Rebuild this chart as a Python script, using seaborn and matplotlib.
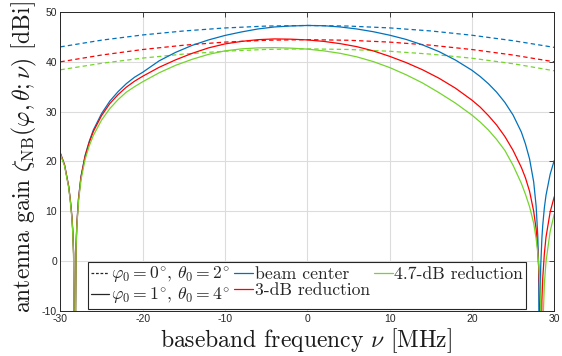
import numpy as np
import pandas as pd
import matplotlib
matplotlib.use("Agg")
import matplotlib.pyplot as plt
from matplotlib.lines import Line2D
import seaborn as sns

# ---------------- data ----------------
freq = [-30, -29.5, -29, -28.8, -28.6, -28.5, -28.4, -28.25, -28.1, -28.0, -27.8, -27.5,
        -27, -26.5, -26, -25, -24, -23, -22, -21, -20, -18, -16, -14, -12, -10, -8, -6,
        -4, -2, 0, 2, 4, 6, 8, 10, 12, 14, 16, 18, 20, 21, 22, 23, 24, 25, 26, 26.5, 27,
        27.5, 27.8, 28.0, 28.1, 28.2, 28.35, 28.5, 28.6, 28.8, 29, 29.5, 30]

solid_center = [21.6, 19.3, 15.0, 12.3, 8.8, 6.0, 1.5, -30, 3.0, 7.5, 12.6, 17.0,
                21.2, 24.0, 26.3, 29.6, 32.1, 34.0, 35.6, 36.9, 37.9, 40.2, 41.9, 43.3, 44.4, 45.3, 46.0, 46.6,
                47.0, 47.2, 47.3, 47.25, 47.0, 46.6, 46.05, 45.35, 44.5, 43.4, 42.05, 40.35, 38.3, 37.05, 35.6, 33.9, 31.85, 29.3, 25.9, 23.5, 20.5,
                15.9, 11.0, 5.0, -1.0, -30, -1.4, 4.6, 7.1, 10.7, 13.2, 17.4, 20.2]

solid_3db = [21.6, 19.3, 15.0, 12.3, 8.8, 6.0, 1.5, -30, 3.0, 7.4, 12.4, 16.8,
             21.0, 23.8, 26.0, 29.2, 31.6, 33.4, 34.9, 36.1, 37.1, 38.9, 40.4, 41.7, 42.8, 43.6, 44.1, 44.45,
             44.6, 44.55, 44.4, 44.1, 43.65, 43.05, 42.2, 41.1, 39.85, 38.4, 36.7, 34.7, 32.3, 30.9, 29.2, 27.3, 25.0, 22.2, 18.8, 16.7, 14.0,
             10.0, 6.4, 2.1, -1.0, -5.3, -30, -8.0, -3.5, 1.5, 4.8, 9.8, 12.9]

solid_47db = [21.4, 19.1, 14.8, 12.0, 8.5, 5.6, 1.0, -30, 2.6, 7.0, 12.0, 16.3,
              20.4, 23.1, 25.2, 28.3, 30.6, 32.4, 33.9, 35.0, 36.0, 37.8, 39.3, 40.5, 41.5, 42.2, 42.6, 42.8,
              42.85, 42.75, 42.55, 42.2, 41.7, 41.0, 40.05, 38.85, 37.4, 35.75, 33.8, 31.7, 29.3, 27.9, 26.3, 24.4, 22.2, 19.2, 15.6, 13.4, 10.9,
              7.6, 4.5, 1.6, -0.4, -2.9, -8.9, -30, -14.1, -4.6, -0.1, 5.9, 9.4]

freq_d = [-30, -25, -20, -15, -10, -5, 0, 5, 10, 15, 20, 25, 30]
dashed_center = [43.0, 44.35, 45.4, 46.2, 46.8, 47.18, 47.3, 47.18, 46.81, 46.2, 45.34, 44.24, 42.9]
dashed_3db = [40.0, 41.36, 42.47, 43.34, 43.96, 44.33, 44.45, 44.33, 43.96, 43.34, 42.47, 41.36, 40.0]
dashed_47db = [38.4, 39.7, 40.75, 41.56, 42.13, 42.49, 42.6, 42.48, 42.12, 41.54, 40.72, 39.62, 38.2]

xticks = [-30, -20, -10, 0, 10, 20, 30]
yticks = [-10, 0, 10, 20, 30, 40, 50]

series_names = ["beam center", "3-dB reduction", "4.7-dB reduction"]
style_names = [r"$\varphi_0 = 0^{\circ}$, $\theta_0 = 2^{\circ}$",
               r"$\varphi_0 = 1^{\circ}$, $\theta_0 = 4^{\circ}$"]
colors = ["#0072BD", "#FF0000", "#74D52B"]

# ---------------- styling ----------------
sns.set_theme(style="white")
plt.rcParams["font.family"] = ["cmr10", "DejaVu Serif"]
plt.rcParams["mathtext.fontset"] = "cm"
plt.rcParams["axes.unicode_minus"] = False
plt.rcParams["axes.formatter.use_mathtext"] = True

fig = plt.figure(figsize=(5.62, 3.56), dpi=100)
ax = fig.add_axes([0.1075, 0.1272, 0.8787, 0.839])

solid_sets = [solid_center, solid_3db, solid_47db]
dashed_sets = [dashed_center, dashed_3db, dashed_47db]
for vals, col in zip(dashed_sets, colors):
    sns.lineplot(x=freq_d, y=vals, ax=ax, color=col, lw=0.9, linestyle=(0, (3.5, 2.5)),
                 estimator=None, sort=False, legend=False)
for vals, col in zip(solid_sets, colors):
    sns.lineplot(x=freq, y=vals, ax=ax, color=col, lw=0.9,
                 estimator=None, sort=False, legend=False)

ax.set_xlim(-30, 30)
ax.set_ylim(-10, 50)
ax.set_xticks(xticks)
ax.set_yticks(yticks)
ax.set_xticklabels([str(t) for t in xticks], fontfamily="Liberation Sans", fontsize=7.5, color="#262626")
ax.set_yticklabels([str(t) for t in yticks], fontfamily="Liberation Sans", fontsize=7.5, color="#262626")
ax.tick_params(direction="in", top=True, right=True, length=3.5, width=0.6,
               color="#262626", pad=2.5)
ax.grid(True, color="#dcdcdc", lw=0.8)
ax.set_axisbelow(True)
for sp in ax.spines.values():
    sp.set_color("#262626")
    sp.set_linewidth(0.7)

ax.set_xlabel(r"baseband frequency $\nu$ [MHz]", fontsize=17, color="#1a1a1a")
ax.set_ylabel(r"antenna gain $\zeta_{\mathrm{NB}}(\varphi, \theta; \nu)$ [dBi]", fontsize=17, color="#1a1a1a")
ax.xaxis.set_label_coords(0.497, -0.052)
ax.yaxis.set_label_coords(-0.043, 0.515)

handles = [Line2D([], [], color="#262626", lw=0.9, linestyle=(0, (2.2, 1.4))),
           Line2D([], [], color="#262626", lw=0.9),
           Line2D([], [], color=colors[0], lw=0.9),
           Line2D([], [], color=colors[1], lw=0.9),
           Line2D([], [], color=colors[2], lw=0.9)]
labels = style_names + series_names
leg = ax.legend(handles, labels, ncol=3, loc="lower left", bbox_to_anchor=(0.056, 0.006),
                borderaxespad=0, fontsize=12.7, handlelength=1.05, handletextpad=0.1,
                columnspacing=0.25, labelspacing=0.05, borderpad=0.15, fancybox=False,
                framealpha=1, edgecolor="#262626")
leg.get_frame().set_linewidth(0.8)

fig.savefig("out.png", dpi=100)
